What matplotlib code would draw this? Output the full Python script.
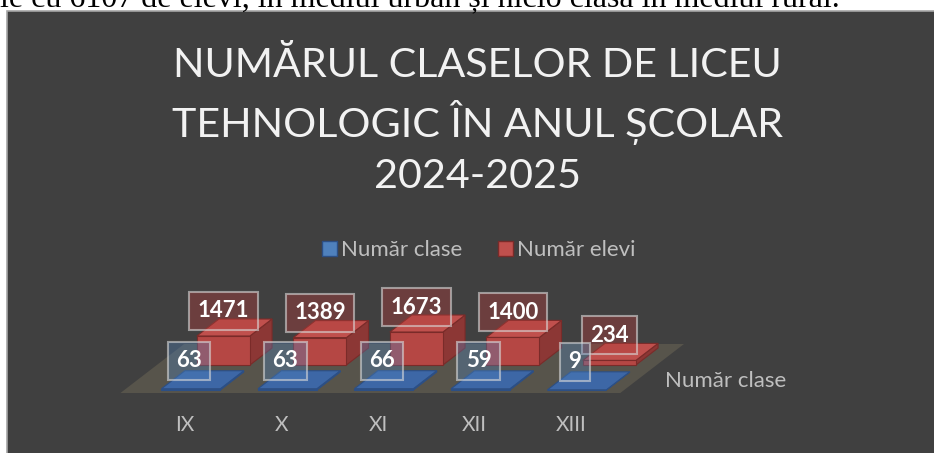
import matplotlib.pyplot as plt
from matplotlib.patches import Polygon, Rectangle, Patch

categories = ['IX', 'X', 'XI', 'XII', 'XIII']
nr_clase = [63, 63, 66, 59, 9]
nr_elevi = [1471, 1389, 1673, 1400, 234]
series_names = ['Număr clase', 'Număr elevi']
title = 'NUMĂRUL CLASELOR DE LICEU\nTEHNOLOGIC ÎN ANUL ȘCOLAR\n2024-2025'
top_text = 'ie cu 6107 de elevi, în mediul urban și nicio clasă în mediul rural.'

W, H = 934, 453
PX_CAT = 96.5      # pixels between categories
VAL_PX = 50.7      # value units per pixel
SLANT = 1.3        # horizontal shift per pixel of depth
X0, Y0 = 187, 393  # slot 0 at the front edge of the floor

plt.rcParams['font.family'] = ['Lato', 'DejaVu Sans']

fig = plt.figure(figsize=(W / 100, H / 100), dpi=100)
fig.patch.set_facecolor('white')
fig.patches.append(Rectangle((7 / W, -0.01), 1.0, (H - 11) / H + 0.01,
                             transform=fig.transFigure, facecolor='#404040',
                             edgecolor='#a6a6a6', lw=1.2, zorder=-1))
fig.text(840 / W, 1 - 7 / H, top_text, ha='right', va='baseline',
         fontsize=23, family='Liberation Serif', color='black')

ax = fig.add_axes([0, 0, 1, 1])
ax.set_xlim(-X0 / PX_CAT, (W - X0) / PX_CAT)
ax.set_ylim((Y0 - H) * VAL_PX, Y0 * VAL_PX)
ax.axis('off')
ax.patch.set_alpha(0)


def proj(x, z, v):
    return (x + SLANT * z / PX_CAT, v + z * VAL_PX)


def box(c, hw, z0, z1, v, front, top, side, edge, zo):
    fr = [proj(c - hw, z0, 0), proj(c + hw, z0, 0), proj(c + hw, z0, v), proj(c - hw, z0, v)]
    tp = [proj(c - hw, z0, v), proj(c + hw, z0, v), proj(c + hw, z1, v), proj(c - hw, z1, v)]
    sd = [proj(c + hw, z0, 0), proj(c + hw, z1, 0), proj(c + hw, z1, v), proj(c + hw, z0, v)]
    for pts, col in [(sd, side), (fr, front), (tp, top)]:
        ax.add_patch(Polygon(pts, closed=True, facecolor=col, edgecolor=edge,
                             lw=0.8, zorder=zo))


# floor
n = len(categories)
floor = [proj(-0.69, 0, 0), proj(n - 0.51, 0, 0), proj(n - 0.51, 49, 0), proj(-0.69, 49, 0)]
ax.add_patch(Polygon(floor, closed=True, facecolor='#57544b', edgecolor='none', zorder=1))

# red bars (back row)
for i, v in enumerate(nr_elevi):
    box(i, 0.275, 28, 45, v, '#b54744', '#c0504d', '#8c3735', '#7a2b29', 2)

# blue bars (front row)
for i, v in enumerate(nr_clase):
    box(i, 0.305, 3, 21, v, '#3a63a0', '#3d67a6', '#2f5288', '#2c4f85', 3)

# data labels
lab_kw = dict(ha='center', va='center', fontsize=16, fontweight='bold', color='white', zorder=5)
for i, v in enumerate(nr_elevi):
    x, y = proj(i, 28, v)
    ax.text(x, y + 25 * VAL_PX, str(v),
            bbox=dict(boxstyle='square,pad=0.38', facecolor=(0.69, 0.24, 0.23, 0.4),
                      edgecolor=(0.85, 0.85, 0.85, 0.6), lw=1.5), **lab_kw)
for i, v in enumerate(nr_clase):
    x, y = proj(i, 3, v)
    ax.text(x - 0.02, y + 28 * VAL_PX, str(v),
            bbox=dict(boxstyle='square,pad=0.38', facecolor=(0.31, 0.51, 0.74, 0.35),
                      edgecolor=(0.85, 0.85, 0.85, 0.6), lw=1.5), **lab_kw)

# category labels
for i, c in enumerate(categories):
    ax.text(i - 0.02, (Y0 - 425) * VAL_PX, c, ha='center', va='center',
            fontsize=15, color='#bfbfbf', zorder=4)

# series axis label
sx, sy = proj(4.79, 12, 0)
ax.text(sx, sy, series_names[0], ha='left', va='center', fontsize=16,
        color='#bfbfbf', zorder=4)

# title
fig.text(477 / W, 1 - 121 / H, title, ha='center', va='center', fontsize=29.7,
         color='#f2f2f2', linespacing=1.42)

# legend
handles = [Patch(facecolor='#4f81bd', edgecolor='#2c4f85'),
           Patch(facecolor='#c0504d', edgecolor='#7a2b29')]
leg = ax.legend(handles, series_names, loc='center', bbox_to_anchor=(479 / W, 1 - 250 / H),
                ncol=2, frameon=False, fontsize=16, labelcolor='#bfbfbf',
                handlelength=0.65, handleheight=0.65, handletextpad=0.2,
                columnspacing=1.6)

fig.savefig('out.png', dpi=100)
